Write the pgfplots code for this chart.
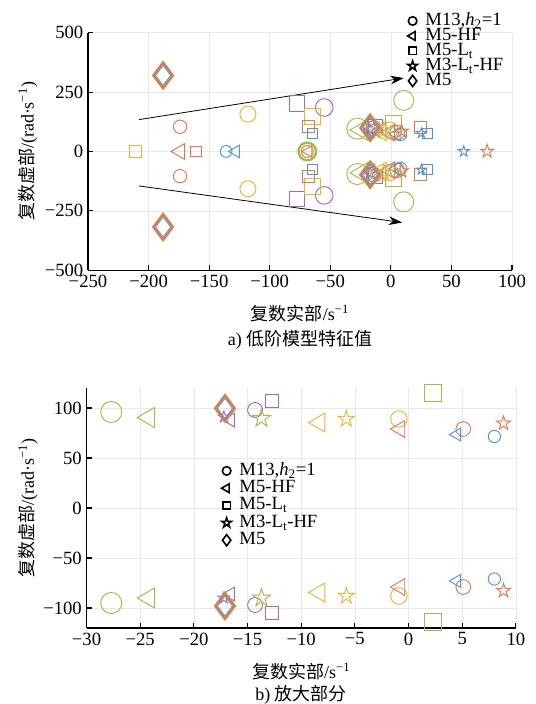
\documentclass[border=0pt]{standalone}
\usepackage{pgfplots}
\pgfplotsset{compat=1.18}
\usepackage{fontspec}
\setmainfont{Liberation Serif}
\newfontfamily\cjk{Noto Sans CJK SC}
\usetikzlibrary{arrows.meta}

\definecolor{cB}{RGB}{80,150,210}
\definecolor{cO}{RGB}{228,118,80}
\definecolor{cY}{RGB}{236,180,50}
\definecolor{cP}{RGB}{165,105,180}
\definecolor{cG}{RGB}{160,190,70}

\pgfdeclareplotmark{pentagram}{%
  \pgfpathmoveto{\pgfpointpolar{90}{\pgfplotmarksize}}%
  \pgfpathlineto{\pgfpointpolar{126}{0.382\pgfplotmarksize}}%
  \pgfpathlineto{\pgfpointpolar{162}{\pgfplotmarksize}}%
  \pgfpathlineto{\pgfpointpolar{198}{0.382\pgfplotmarksize}}%
  \pgfpathlineto{\pgfpointpolar{234}{\pgfplotmarksize}}%
  \pgfpathlineto{\pgfpointpolar{270}{0.382\pgfplotmarksize}}%
  \pgfpathlineto{\pgfpointpolar{306}{\pgfplotmarksize}}%
  \pgfpathlineto{\pgfpointpolar{342}{0.382\pgfplotmarksize}}%
  \pgfpathlineto{\pgfpointpolar{18}{\pgfplotmarksize}}%
  \pgfpathlineto{\pgfpointpolar{54}{0.382\pgfplotmarksize}}%
  \pgfpathclose
  \pgfusepathqstroke
}

\pgfplotsset{
  base/.style={scale only axis, anchor=south west, clip=false,
    axis x line*=bottom, axis y line*=left,
    axis line style={-, line width=0.9pt},
    tick align=inside, major tick length=4pt,
    tick style={black, line width=0.8pt},
    grid=major, grid style={black!9, line width=0.4pt},
    tick label style={font=\fontsize{14}{14}\selectfont},
    label style={font=\fontsize{13.5}{15}\selectfont},
    legend cell align=left,
    legend style={draw=none, fill=none, font=\fontsize{14}{14}\selectfont,
      nodes={inner sep=0pt, text height=8.5pt, text depth=2pt}, column sep=6pt},
  },
  circ/.style={only marks, mark=o, line width=0.7pt, forget plot},
  tri/.style={only marks, mark=triangle, mark options={rotate=90}, line width=0.7pt, forget plot},
  sq/.style={only marks, mark=square, line width=0.7pt, forget plot},
  st/.style={only marks, mark=pentagram, line width=0.7pt, forget plot},
  dia/.style={only marks, mark=diamond, line width=0.7pt, forget plot},
  lg/.style={only marks, black, line width=1.2pt},
}

\begin{document}
\begin{tikzpicture}
\path[use as bounding box] (0,0) rectangle (402pt,528pt);

% ---------------- a) ----------------
\begin{axis}[base, at={(66pt,325.3pt)}, width=318pt, height=178.2pt,
  xmin=-250, xmax=100, ymin=-500, ymax=500,
  xtick={-250,-200,-150,-100,-50,0,50,100},
  xticklabels={−250,−200,−150,−100,−50,0,50,100},
  ytick={-500,-250,0,250,500},
  yticklabels={−500,−250,0,250,500},
  xlabel={{\cjk 复数实部}/s\textsuperscript{−1}},
  ylabel={{\cjk 复数虚部}/(rad·s\textsuperscript{−1})},
  xlabel style={at={(axis description cs:0.5,0)}, anchor=center, yshift=-32.5pt},
  ylabel style={at={(axis description cs:-0.1415,0.5)}, anchor=center},
  legend style={row sep=0.75pt, at={(axis description cs:0.7436,1.091)}, anchor=north west},
]
% circles
\addplot[circ, cO, mark size=5pt] coordinates {(-174,104) (-174,-104)};
\addplot[circ, cB, mark size=4.4pt] coordinates {(-136,0)};
\addplot[circ, cY, mark size=6pt] coordinates {(-118,157) (-118,-157)};
\addplot[circ, cP, mark size=6.6pt] coordinates {(-55,185) (-55,-185)};
\addplot[circ, cG, mark size=6.6pt, line width=1.8pt] coordinates {(-69,0)};
\addplot[circ, cO, mark size=4.5pt] coordinates {(-69,0)};
\addplot[circ, cG, mark size=7.5pt] coordinates {(10.6,215) (10.6,-212)};
\addplot[circ, cG, mark size=7.9pt] coordinates {(-27.7,96) (-27.7,-95)};
\addplot[circ, cP, mark size=5.6pt] coordinates {(-14.3,98) (-14.3,-97)};
\addplot[circ, cY, mark size=6.2pt] coordinates {(-0.9,89) (-0.9,-88)};
\addplot[circ, cO, mark size=5.5pt] coordinates {(5.1,79) (5.1,-79)};
\addplot[circ, cB, mark size=4.6pt] coordinates {(8,71.5) (8,-71)};
% left triangles
\addplot[tri, cO, mark size=6.8pt] coordinates {(-174,0)};
\addplot[tri, cB, mark size=5.5pt] coordinates {(-128,0)};
\addplot[tri, cO, mark size=5pt] coordinates {(-68,0)};
\addplot[tri, cG, mark size=8.7pt] coordinates {(-24.2,90.5) (-24.2,-90)};
\addplot[tri, cP, mark size=6pt] coordinates {(-16.6,88) (-16.6,-86)};
\addplot[tri, cY, mark size=8.2pt] coordinates {(-8.3,85.5) (-8.3,-84.5)};
\addplot[tri, cO, mark size=7.2pt] coordinates {(-0.8,79) (-0.8,-79)};
\addplot[tri, cB, mark size=5.6pt] coordinates {(4.5,73.5) (4.5,-73)};
% squares
\addplot[sq, cY, mark size=4.5pt] coordinates {(-211,0)};
\addplot[sq, cO, mark size=4pt] coordinates {(-160.7,0)};
\addplot[sq, cP, mark size=5.9pt] coordinates {(-77.5,202) (-77.5,-200)};
\addplot[sq, cY, mark size=6pt] coordinates {(-64.3,148) (-64.3,-148)};
\addplot[sq, cO, mark size=4.5pt] coordinates {(-68,106) (-68,-106)};
\addplot[sq, cB, mark size=3.75pt] coordinates {(-65,76) (-65,-76)};
\addplot[sq, cP, mark size=5pt] coordinates {(-12.7,107) (-12.7,-105)};
\addplot[sq, cG, mark size=6.2pt] coordinates {(2.3,115) (2.3,-114)};
\addplot[sq, cO, mark size=4.5pt] coordinates {(24.4,100) (24.4,-98)};
\addplot[sq, cB, mark size=3.75pt] coordinates {(30,76) (30,-76)};
% stars
\addplot[st, cB, mark size=4.3pt] coordinates {(60.2,0)};
\addplot[st, cO, mark size=5.25pt] coordinates {(79.5,0)};
\addplot[st, cB, mark size=4pt] coordinates {(25.2,77) (25.2,-77)};
\addplot[st, cP, mark size=4.5pt] coordinates {(-17.2,91) (-17.2,-90)};
\addplot[st, cG, mark size=7.1pt] coordinates {(-13.7,89.7) (-13.7,-90)};
\addplot[st, cY, mark size=6.3pt] coordinates {(-5.8,89) (-5.8,-88)};
\addplot[st, cO, mark size=5.5pt] coordinates {(8.85,84.7) (8.85,-82.7)};
% diamonds
\addplot[dia, cG, mark size=10.5pt, line width=1pt] coordinates {(-188,320) (-188,-318) (-17.1,99.7) (-17.1,-98)};
\addplot[dia, cO, mark size=9.4pt, line width=1.6pt] coordinates {(-188,320) (-188,-318) (-17.1,99.7) (-17.1,-98)};
\addplot[dia, cB, mark size=7.5pt, line width=0.6pt] coordinates {(-188,320) (-188,-318) (-17.1,99.7) (-17.1,-98)};
% arrows
\draw[-{Stealth[length=10pt,width=6.5pt]}, line width=0.6pt] (axis cs:-208,134) -- (axis cs:10.6,309);
\draw[-{Stealth[length=10pt,width=6.5pt]}, line width=0.6pt] (axis cs:-208,-145) -- (axis cs:9.3,-299);
% legend
\addlegendimage{lg, mark=o, mark size=3.2pt}
\addlegendentry{M13,\textit{h}\textsubscript{2}=1}
\addlegendimage{lg, mark=triangle, mark options={rotate=90}, mark size=3.8pt}
\addlegendentry{M5-HF}
\addlegendimage{lg, mark=square, mark size=2.8pt}
\addlegendentry{M5-L\textsubscript{t}}
\addlegendimage{lg, mark=pentagram, mark size=3.8pt}
\addlegendentry{M3-L\textsubscript{t}-HF}
\addlegendimage{lg, mark=diamond, mark size=4.2pt}
\addlegendentry{M5}
\end{axis}

% ---------------- b) ----------------
\begin{axis}[base, at={(64.9pt,57pt)}, width=322pt, height=180pt,
  xmin=-30, xmax=10, ymin=-120, ymax=120,
  xtick={-30,-25,-20,-15,-10,-5,0,5,10},
  xticklabels={−30,−25,−20,−15,−10,−5,0,5,10},
  ytick={-100,-50,0,50,100},
  yticklabels={−100,−50,0,50,100},
  xlabel={{\cjk 复数实部}/s\textsuperscript{−1}},
  ylabel={{\cjk 复数虚部}/(rad·s\textsuperscript{−1})},
  xlabel style={at={(axis description cs:0.5,0)}, anchor=center, yshift=-32.5pt},
  ylabel style={at={(axis description cs:-0.136,0.5)}, anchor=center},
  legend style={row sep=2.5pt, at={(axis description cs:0.3046,0.696)}, anchor=north west},
]
% circles
\addplot[circ, cG, mark size=7.9pt] coordinates {(-27.7,96) (-27.7,-95)};
\addplot[circ, cP, mark size=5.6pt] coordinates {(-14.3,98) (-14.3,-97)};
\addplot[circ, cY, mark size=6.2pt] coordinates {(-0.9,89) (-0.9,-88)};
\addplot[circ, cO, mark size=5.5pt] coordinates {(5.1,79) (5.1,-79)};
\addplot[circ, cB, mark size=4.6pt] coordinates {(8,71.5) (8,-71)};
% left triangles
\addplot[tri, cG, mark size=8.7pt] coordinates {(-24.2,90.5) (-24.2,-90)};
\addplot[tri, cP, mark size=6pt] coordinates {(-16.6,88) (-16.6,-86)};
\addplot[tri, cY, mark size=8.2pt] coordinates {(-8.3,85.5) (-8.3,-84.5)};
\addplot[tri, cO, mark size=7.2pt] coordinates {(-0.8,79) (-0.8,-79)};
\addplot[tri, cB, mark size=5.6pt] coordinates {(4.5,73.5) (4.5,-73)};
% squares
\addplot[sq, cP, mark size=5pt] coordinates {(-12.7,107) (-12.7,-105)};
\addplot[sq, cG, mark size=6.2pt] coordinates {(2.3,115) (2.3,-114)};
% stars
\addplot[st, cP, mark size=4.5pt] coordinates {(-17.2,91) (-17.2,-90)};
\addplot[st, cG, mark size=7.1pt] coordinates {(-13.7,89.7) (-13.7,-90)};
\addplot[st, cY, mark size=6.3pt] coordinates {(-5.8,89) (-5.8,-88)};
\addplot[st, cO, mark size=5.5pt] coordinates {(8.85,84.7) (8.85,-82.7)};
% diamonds
\addplot[dia, cG, mark size=10.5pt, line width=1pt] coordinates {(-17.1,99.7) (-17.1,-98)};
\addplot[dia, cO, mark size=9.4pt, line width=1.6pt] coordinates {(-17.1,99.7) (-17.1,-98)};
\addplot[dia, cB, mark size=7.5pt, line width=0.6pt] coordinates {(-17.1,99.7) (-17.1,-98)};
% legend
\addlegendimage{lg, mark=o, mark size=3.2pt}
\addlegendentry{M13,\textit{h}\textsubscript{2}=1}
\addlegendimage{lg, mark=triangle, mark options={rotate=90}, mark size=3.8pt}
\addlegendentry{M5-HF}
\addlegendimage{lg, mark=square, mark size=2.8pt}
\addlegendentry{M5-L\textsubscript{t}}
\addlegendimage{lg, mark=pentagram, mark size=3.8pt}
\addlegendentry{M3-L\textsubscript{t}-HF}
\addlegendimage{lg, mark=diamond, mark size=4.2pt}
\addlegendentry{M5}
\end{axis}

\node[font=\fontsize{13.5}{15}\selectfont] at (225pt,273pt) {a) {\cjk 低阶模型特征值}};
\node[font=\fontsize{13.5}{15}\selectfont] at (225.75pt,7pt) {b) {\cjk 放大部分}};
\end{tikzpicture}
\end{document}
